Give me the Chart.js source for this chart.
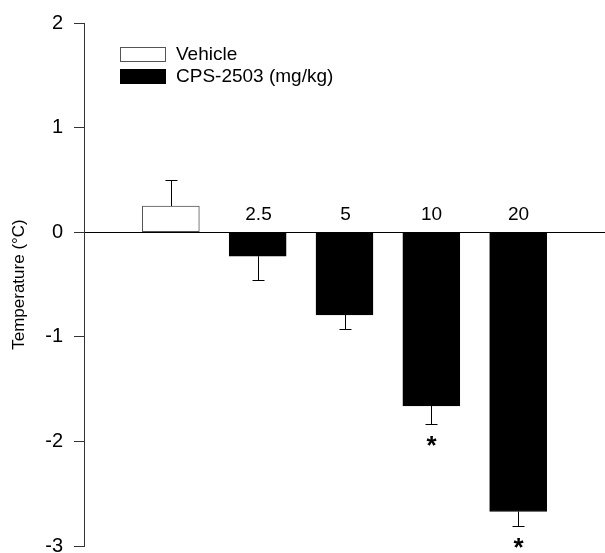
<!DOCTYPE html>
<html>
<head>
<meta charset="utf-8">
<script src="https://cdn.jsdelivr.net/npm/chart.js@4"></script>
<style>
  html, body { margin: 0; padding: 0; background: #fff; overflow: hidden; }
  canvas { display: block; }
</style>
</head>
<body>
<canvas id="chart" width="605" height="553"></canvas>
<script>
// Data
const groups = ['Vehicle', '2.5', '5', '10', '20'];
const means = [0.25, -0.23, -0.79, -1.66, -2.67];
const errors = [0.25, 0.23, 0.14, 0.17, 0.14];
const significant = [false, false, false, true, true];
const yTicks = [-3, -2, -1, 0, 1, 2];

const FONT = 'Liberation Sans, Arial, sans-serif';

// one empty slot at each end so bars sit like the original
const slots = [''].concat(groups, ['']);
const vehicleData = slots.map((g, i) => (i === 1 ? means[0] : null));
const cpsData = slots.map((g, i) => (i > 1 && i <= groups.length ? means[i - 1] : null));

// error bars, dose labels, asterisks
const extrasPlugin = {
    id: 'extras',
    afterDatasetsDraw(chart) {
        const ctx = chart.ctx;
        const x = chart.scales.x;
        const y = chart.scales.y;
        ctx.save();
        ctx.strokeStyle = '#000';
        ctx.lineWidth = 1;
        groups.forEach((g, i) => {
            const px = Math.round(x.getPixelForValue(i + 1)) + 0.5;
            const dir = means[i] >= 0 ? 1 : -1;
            const y0 = y.getPixelForValue(means[i]);
            const y1 = Math.round(y.getPixelForValue(means[i] + dir * errors[i])) + 0.5;
            ctx.beginPath();
            ctx.moveTo(px, y0);
            ctx.lineTo(px, y1);
            ctx.moveTo(px - 6, y1);
            ctx.lineTo(px + 6, y1);
            ctx.stroke();

            ctx.fillStyle = '#000';
            ctx.textAlign = 'center';
            if (i > 0) {
                ctx.font = '19px ' + FONT;
                ctx.textBaseline = 'bottom';
                ctx.fillText(g, px, y.getPixelForValue(0) - 8);
            }
            if (significant[i]) {
                ctx.font = 'bold 26px ' + FONT;
                ctx.textBaseline = 'top';
                ctx.fillText('*', px, y1 + 9);
            }
        });
        ctx.restore();
    }
};

// legend box in the upper left
const legendPlugin = {
    id: 'boxLegend',
    afterDraw(chart) {
        const ctx = chart.ctx;
        const left = chart.chartArea.left + 36;
        let top = chart.chartArea.top + 24;
        ctx.save();
        chart.data.datasets.forEach(ds => {
            ctx.fillStyle = ds.backgroundColor;
            ctx.fillRect(left, top, 45, 14);
            ctx.strokeStyle = ds.borderColor;
            ctx.lineWidth = 1;
            ctx.strokeRect(left + 0.5, top + 0.5, 45, 14);
            ctx.fillStyle = '#000';
            ctx.font = '19px ' + FONT;
            ctx.textAlign = 'left';
            ctx.textBaseline = 'middle';
            ctx.fillText(ds.label, left + 56, top + 8);
            top += 22;
        });
        ctx.restore();
    }
};

new Chart(document.getElementById('chart'), {
    type: 'bar',
    data: {
        labels: slots,
        datasets: [{
            label: 'Vehicle',
            data: vehicleData,
            backgroundColor: '#ffffff',
            borderColor: '#555555',
            borderWidth: 1,
            borderSkipped: false
        }, {
            label: 'CPS-2503 (mg/kg)',
            data: cpsData,
            backgroundColor: '#000000',
            borderColor: '#000000',
            borderWidth: 1,
            borderSkipped: false
        }]
    },
    options: {
        responsive: false,
        animation: false,
        devicePixelRatio: 1,
        layout: {
            autoPadding: false,
            padding: { top: 23, bottom: 7, left: 0, right: 0 }
        },
        datasets: {
            bar: { grouped: false, barThickness: 57 }
        },
        plugins: {
            legend: { display: false },
            tooltip: { enabled: false }
        },
        scales: {
            x: {
                type: 'category',
                offset: false,
                display: false
            },
            y: {
                min: -3,
                max: 2,
                afterFit: (scale) => {
                    scale.width = 84;
                    scale.paddingTop = 0;
                    scale.paddingBottom = 0;
                },
                afterBuildTicks: (scale) => {
                    scale.ticks = yTicks.map(v => ({ value: v }));
                },
                border: { display: true, color: '#333', width: 1 },
                grid: {
                    drawOnChartArea: true,
                    color: (c) => (c.tick && c.tick.value === 0 ? '#000' : 'rgba(0,0,0,0)'),
                    tickColor: '#333',
                    tickLength: 10
                },
                ticks: {
                    color: '#000',
                    padding: 11,
                    font: { family: FONT, size: 20 }
                },
                title: {
                    display: true,
                    text: 'Temperature (°C)',
                    color: '#000',
                    font: { family: FONT, size: 17 },
                    padding: { top: 9, bottom: 0 }
                }
            }
        }
    },
    plugins: [extrasPlugin, legendPlugin]
});
</script>
</body>
</html>
